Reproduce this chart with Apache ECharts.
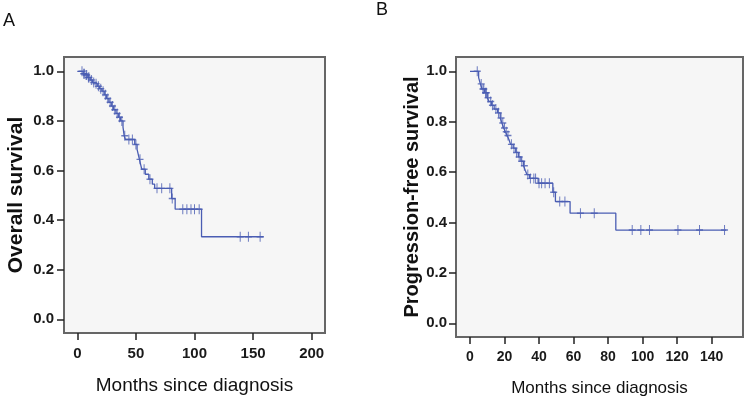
<!DOCTYPE html>
<html>
<head>
<meta charset="utf-8">
<script src="https://cdn.jsdelivr.net/npm/echarts@6/dist/echarts.min.js"></script>
<style>
  html, body { margin: 0; padding: 0; background: #fff; }
  #main { width: 751px; height: 407px; }
</style>
</head>
<body>
<div id="main"></div>
<script>
// A: overall survival (step times in months, survival after each step)
var osTime = [0, 5, 7, 9, 11, 13, 15, 17, 19, 21, 23, 25, 27, 29, 31, 33, 35, 37, 39, 40, 41, 49, 51, 52, 53, 54, 55, 58, 61, 64, 66, 80.5, 83.5, 106, 159];
var osSurv = [1.0, 0.99, 0.985, 0.975, 0.965, 0.955, 0.95, 0.94, 0.93, 0.92, 0.905, 0.89, 0.875, 0.86, 0.845, 0.83, 0.815, 0.80, 0.775, 0.74, 0.725, 0.705, 0.685, 0.665, 0.645, 0.625, 0.605, 0.585, 0.565, 0.545, 0.528, 0.487, 0.444, 0.333, 0.333];
var osCensor = [4, 5.5, 6, 7.5, 8, 9.5, 10, 12, 14, 16, 18, 20, 22, 24, 26, 28, 30, 32, 34, 36, 38, 40.5, 44, 47, 50, 53.5, 57, 62, 68, 72, 79, 81, 90, 93.5, 97, 100, 104, 139, 146, 156];

// B: progression-free survival
var pfsTime = [0, 5, 6, 7, 8.5, 10, 11, 12.5, 14, 16, 17.5, 18.5, 19.5, 20.5, 21.5, 22.5, 23.5, 25, 26.5, 28, 29.5, 31, 32, 33, 34.5, 39.5, 48, 49.5, 58, 84.5, 148.5];
var pfsSurv = [1.0, 0.975, 0.95, 0.93, 0.915, 0.895, 0.88, 0.865, 0.85, 0.835, 0.815, 0.795, 0.775, 0.76, 0.745, 0.73, 0.71, 0.695, 0.678, 0.66, 0.643, 0.625, 0.607, 0.59, 0.575, 0.556, 0.52, 0.483, 0.437, 0.37, 0.37];
var pfsCensor = [4.2, 6.5, 7.5, 8, 9, 9.5, 10.5, 12, 13, 15, 16.5, 18, 19, 20, 21, 22, 24, 25.5, 27, 28.5, 30, 31.5, 33.5, 35, 37, 38, 40, 41.5, 43.5, 46, 48.5, 52, 55, 64, 72, 94, 99, 104, 120.5, 133, 147.5];

var xTicksA = [0, 50, 100, 150, 200];
var xTicksB = [0, 20, 40, 60, 80, 100, 120, 140];
var yTicks = [0, 0.2, 0.4, 0.6, 0.8, 1.0];

var blue = '#4a5db3';
var tickFont = 'Liberation Sans';
var plus = 'path://M5,0 L5,10 M1.5,5 L8.5,5';

function pairs(t, s) {
    var out = [];
    for (var i = 0; i < t.length; i++) out.push([t[i], s[i]]);
    return out;
}
function survAt(t, s, x) {
    var v = s[0];
    for (var i = 0; i < t.length; i++) {
        if (t[i] <= x) v = s[i];
    }
    return v;
}
function censorPts(t, s, c) {
    return c.map(function (x) { return [x, survAt(t, s, x)]; });
}

function xAxis(idx, min, max, ticks, name, nameSize, gap, lblSize) {
    return {
        type: 'value', gridIndex: idx, min: min, max: max,
        name: name, nameLocation: 'middle', nameGap: gap,
        nameTextStyle: { fontFamily: 'Liberation Sans', fontSize: nameSize, color: '#111' },
        axisLine: { show: true, onZero: false, lineStyle: { color: '#666', width: 2 } },
        axisTick: { show: true, inside: false, length: 7, customValues: ticks, lineStyle: { color: '#222', width: 1.5 } },
        axisLabel: { customValues: ticks, margin: 13, fontFamily: tickFont, fontWeight: 'bold', fontSize: lblSize, color: '#1a1a1a' },
        splitLine: { show: false }
    };
}
function yAxis(idx, min, max, name, nameSize, gap, lblMargin) {
    return {
        type: 'value', gridIndex: idx, min: min, max: max,
        name: name, nameLocation: 'middle', nameGap: gap,
        nameTextStyle: { fontFamily: 'Liberation Sans', fontWeight: 'bold', fontSize: nameSize, color: '#111' },
        axisLine: { show: true, onZero: false, lineStyle: { color: '#666', width: 2 } },
        axisTick: { show: true, inside: false, length: 7, customValues: yTicks, lineStyle: { color: '#222', width: 1.5 } },
        axisLabel: {
            customValues: yTicks, margin: lblMargin, fontFamily: tickFont, fontWeight: 'bold', fontSize: 15, color: '#1a1a1a',
            formatter: function (v) { return v.toFixed(1); }
        },
        splitLine: { show: false }
    };
}

var chart = echarts.init(document.getElementById('main'));
chart.setOption({
    animation: false,
    backgroundColor: '#ffffff',
    title: [
        { text: 'A', left: 3, top: 12, padding: 0, textStyle: { fontFamily: 'Liberation Sans', fontWeight: 'normal', fontSize: 18, color: '#111' } },
        { text: 'B', left: 376, top: 1, padding: 0, textStyle: { fontFamily: 'Liberation Sans', fontWeight: 'normal', fontSize: 18, color: '#111' } }
    ],
    grid: [
        { left: 64, top: 57, width: 261, height: 276, show: true, backgroundColor: '#f6f6f6', borderColor: '#666', borderWidth: 2 },
        { left: 456, top: 57, width: 287, height: 280, show: true, backgroundColor: '#f6f6f6', borderColor: '#666', borderWidth: 2 }
    ],
    xAxis: [
        xAxis(0, -11.35, 211.35, xTicksA, 'Months since diagnosis', 19, 43, 15),
        xAxis(1, -8.11, 158.2, xTicksB, 'Months since diagnosis', 17, 43, 14)
    ],
    yAxis: [
        yAxis(0, -0.0552, 1.0577, 'Overall survival', 21, 37, 10),
        yAxis(1, -0.0544, 1.0567, 'Progression-free survival', 20, 31, 9)
    ],
    series: [
        {
            type: 'line', xAxisIndex: 0, yAxisIndex: 0, step: 'end', showSymbol: false,
            lineStyle: { color: blue, width: 1.3 }, data: pairs(osTime, osSurv)
        },
        {
            type: 'scatter', xAxisIndex: 0, yAxisIndex: 0, symbol: plus, symbolSize: [7, 10],
            itemStyle: { color: 'none', borderColor: blue, borderWidth: 1.2 },
            data: censorPts(osTime, osSurv, osCensor)
        },
        {
            type: 'line', xAxisIndex: 1, yAxisIndex: 1, step: 'end', showSymbol: false,
            lineStyle: { color: blue, width: 1.3 }, data: pairs(pfsTime, pfsSurv)
        },
        {
            type: 'scatter', xAxisIndex: 1, yAxisIndex: 1, symbol: plus, symbolSize: [7, 10],
            itemStyle: { color: 'none', borderColor: blue, borderWidth: 1.2 },
            data: censorPts(pfsTime, pfsSurv, pfsCensor)
        }
    ]
});
</script>
</body>
</html>
